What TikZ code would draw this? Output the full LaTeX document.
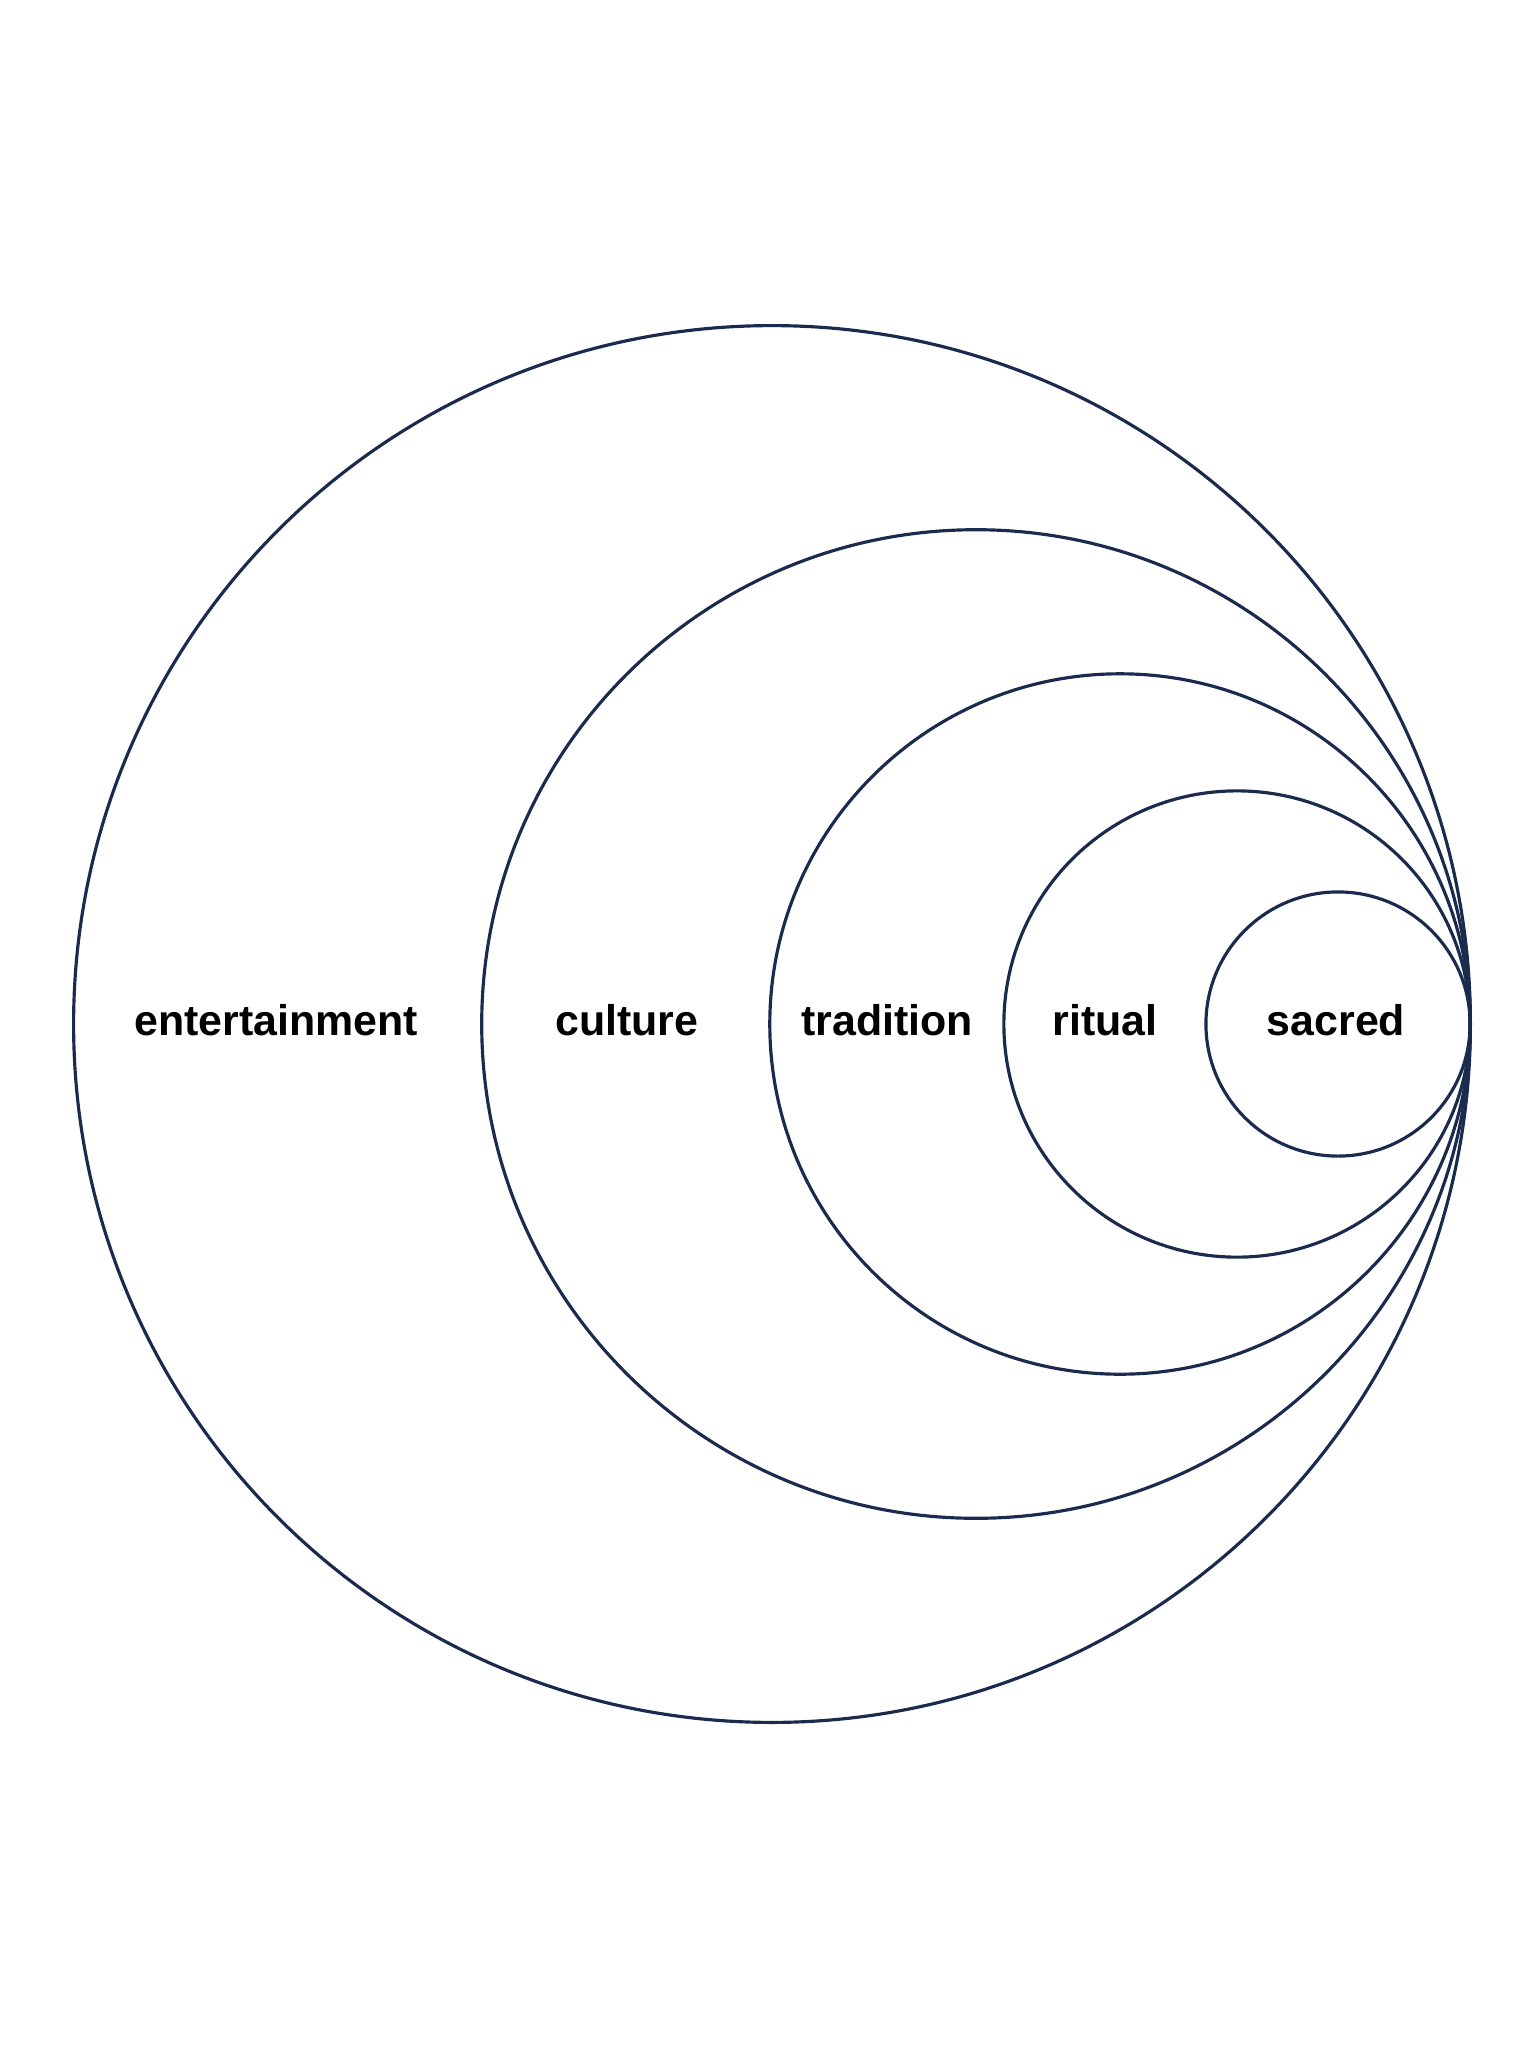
\documentclass[tikz,border=0pt]{standalone}
\usepackage{fontspec}
\setmainfont{Liberation Sans}
\definecolor{ring}{HTML}{1B2B4D}
\begin{document}
\begin{tikzpicture}[x=0.01cm,y=-0.01cm,
  ringline/.style={draw=ring,line width=0.9pt},
  lbl/.style={font=\fontsize{12.2pt}{14pt}\selectfont\bfseries,inner sep=0pt,anchor=base}]
\useasboundingbox[fill=white] (0,0) rectangle (1536,2048);
\draw[ringline] (772,1024) circle[radius=6.98cm] coordinate (c1);
\draw[ringline] (976,1024) circle[radius=4.94cm] coordinate (c2);
\draw[ringline] (1120,1024) circle[radius=3.50cm] coordinate (c3);
\draw[ringline] (1237,1024) circle[radius=2.33cm] coordinate (c4);
\draw[ringline] (1338,1024) circle[radius=1.32cm] coordinate (c5);
\node[lbl] (ent) at (276,1035) {entertainment};
\node[lbl] (cul) at (627,1035) {culture};
\node[lbl] (tra) at (887,1035) {tradition};
\node[lbl] (rit) at (1105,1035) {ritual};
\node[lbl] (sac) at (1336,1035) {sacred};
\end{tikzpicture}
\end{document}
